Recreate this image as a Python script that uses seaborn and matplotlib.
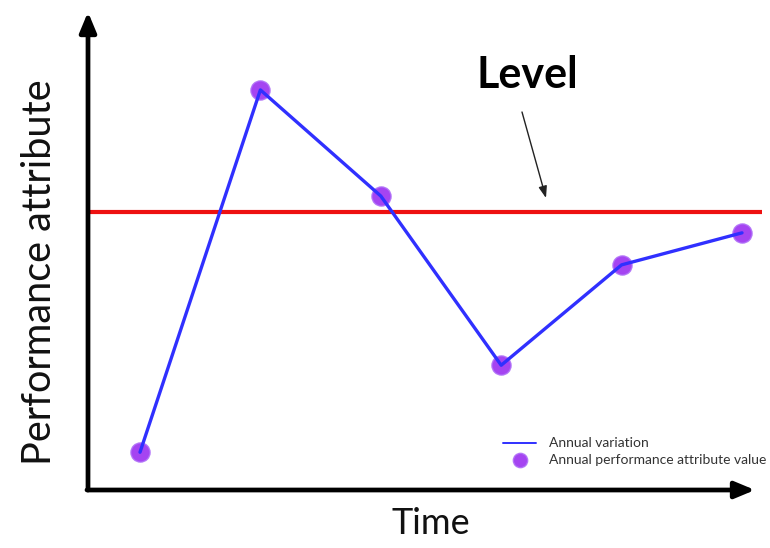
import matplotlib
matplotlib.use("Agg")
import matplotlib.pyplot as plt
import seaborn as sns
import pandas as pd

time = [1, 2, 3, 4, 5, 6]
performance = [0.79, 8.37, 6.15, 2.61, 4.71, 5.38]
level = 5.82

df = pd.DataFrame({"time": time, "performance": performance})

sns.set_style("white")
plt.rcParams['font.family'] = ['Lato', 'DejaVu Sans']

fig = plt.figure(figsize=(7.7, 5.48), dpi=100)
ax = fig.add_axes([88/770, 58/548, 674/770, 478/548])

sns.lineplot(data=df, x="time", y="performance", ax=ax, color="#3030ff",
             linewidth=2.4, label="Annual variation", zorder=3)
sns.scatterplot(data=df, x="time", y="performance", ax=ax, color="#9b30f0",
                s=190, edgecolor="#b070f8", linewidth=1, alpha=0.9,
                label="Annual performance attribute value", zorder=2)
ax.axhline(level, color="#ee1111", linewidth=3, zorder=1)

ax.set_xlim(1 - 52/120.4, 6 + 20/120.4)
ax.set_ylim(0, 10)
for s in ax.spines.values():
    s.set_visible(False)
ax.set_xticks([])
ax.set_yticks([])
ax.set_xlabel("")
ax.set_ylabel("")

# axis arrows
ax.annotate("", xy=(0, 1.0), xytext=(0, 0), xycoords="axes fraction",
            arrowprops=dict(arrowstyle="-|>,head_width=0.5,head_length=1.2",
                            color="black", lw=3.4, shrinkA=0, shrinkB=0))
ax.annotate("", xy=(667/674, 0), xytext=(-1/674, 0), xycoords="axes fraction",
            arrowprops=dict(arrowstyle="-|>,head_width=0.5,head_length=1.2",
                            color="black", lw=3.4, shrinkA=0, shrinkB=0))

fig.text(40/770, 1 - 272/548, "Performance attribute", rotation=90,
         ha="center", va="center", fontsize=28.5, color="#111111")
fig.text(431/770, 1 - 524/548, "Time", ha="center", va="center",
         fontsize=26, color="#111111")
fig.text(527/770, 1 - 75/548, "Level", ha="center", va="center",
         fontsize=31, fontweight="bold", color="black")

ax.annotate("", xy=(546/770, 1 - 198/548), xytext=(522/770, 1 - 112/548),
            xycoords="figure fraction", textcoords="figure fraction",
            arrowprops=dict(arrowstyle="-|>,head_width=0.25,head_length=0.7",
                            color="#222222", lw=1.0, shrinkA=0, shrinkB=0))

leg = ax.legend(loc="lower right", bbox_to_anchor=(1.025, 0.025), frameon=False,
                fontsize=10, handlelength=2.4, labelspacing=0.3,
                handletextpad=0.9, markerscale=0.75)
leg.legend_handles[0].set_linewidth(1.4)
for t in leg.get_texts():
    t.set_color("#333333")

fig.savefig("out.png", dpi=100)
